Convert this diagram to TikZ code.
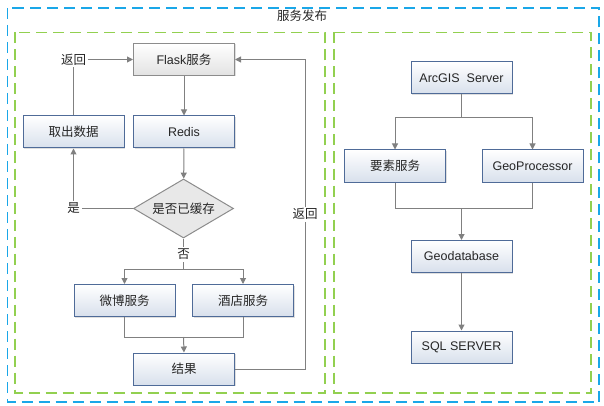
\documentclass[tikz,border=0pt]{standalone}
\usepackage{fontspec}
\setmainfont{Liberation Sans}
\newfontfamily\cjk{Noto Sans CJK SC}
\usetikzlibrary{arrows.meta,shapes.geometric,shadows}
\definecolor{bluedash}{HTML}{1AA7E8}
\definecolor{greendash}{HTML}{92D050}
\definecolor{boxborder}{HTML}{4F6B98}
\definecolor{boxbottom}{HTML}{D8E0EC}
\definecolor{grayborder}{HTML}{8C8C8C}
\definecolor{graybottom}{HTML}{E2E2E2}
\definecolor{connc}{HTML}{808080}
\definecolor{txt}{HTML}{262626}
\tikzset{
  bbox/.style={draw=boxborder, line width=1pt, top color=white, bottom color=boxbottom,
    minimum width=101pt, minimum height=32pt, inner sep=0pt,
    drop shadow={shadow xshift=1pt, shadow yshift=-1pt, opacity=.25}},
  gbox/.style={bbox, draw=grayborder, bottom color=graybottom},
  line/.style={draw=connc, line width=1pt},
  conn/.style={line, -{Triangle[length=6pt,width=6pt]}},
  lbl/.style={fill=white, inner sep=2pt},
  frame/.style={line width=1.3pt, dash pattern=on 11pt off 6pt}
}
\begin{document}
\begin{tikzpicture}[x=1pt,y=-1pt,font=\fontsize{12.5}{15}\selectfont, text=txt]
\useasboundingbox (0,0) rectangle (604,406);
\draw[frame, draw=bluedash] (7.5,8) rectangle (599,402);
\draw[frame, draw=greendash] (15,32.5) rectangle (325,393);
\draw[frame, draw=greendash] (334,32.5) rectangle (591,393);
\node (title) at (302,16) {\cjk 服务发布};

% left
\node[gbox] (flask) at (184,59.5) {Flask{\cjk 服务}};
\node[bbox] (redis) at (184,132) {Redis};
\node[bbox] (quchu) at (73.5,132) {\cjk 取出数据};
\node[diamond, draw=grayborder, line width=1pt, fill=graybottom!80!white, minimum width=100pt, minimum height=59pt, inner sep=0pt] (dia) at (183.5,208.5) {};
\node (diatext) at (dia.center) {\cjk 是否已缓存};
\node[bbox] (weibo) at (124.5,300.5) {\cjk 微博服务};
\node[bbox] (jiudian) at (243,300.5) {\cjk 酒店服务};
\node[bbox] (jieguo) at (184,369) {\cjk 结果};

\coordinate (b1) at (183.5,269);
\coordinate (m1) at (183.5,337);
\coordinate (rx) at (305,0);

\draw[conn] (flask) -- (redis);
\draw[conn] (redis) -- (dia);
\draw[line] (dia.south) -- node[lbl,pos=0.52]{\cjk 否} (b1);
\draw[conn] (b1) -| (weibo.north);
\draw[conn] (b1) -| (jiudian.north);
\draw[line] (weibo.south) |- (m1);
\draw[line] (jiudian.south) |- (m1);
\draw[conn] (m1) -- (jieguo.north);
\draw[conn] (dia.west) -| node[lbl,pos=0.5]{\cjk 是} (quchu.south);
\draw[conn] (quchu.north) |- node[lbl,pos=0.5]{\cjk 返回} (flask.west);
\draw[conn] (jieguo.east) -- (jieguo.east -| rx) -- node[lbl,pos=0.5]{\cjk 返回} (flask.east -| rx) -- (flask.east);

% right
\node[bbox] (arcgis) at (461.5,78) {ArcGIS\ \ Server};
\node[bbox] (yaosu) at (395,166) {\cjk 要素服务};
\node[bbox] (geop) at (532.5,166) {GeoProcessor};
\node[bbox] (gdb) at (461.5,256.5) {Geodatabase};
\node[bbox] (sql) at (461.5,347) {SQL SERVER};

\coordinate (b2) at (461.5,118);
\coordinate (m2) at (461.5,208);
\draw[line] (arcgis.south) -- (b2);
\draw[conn] (b2) -| (yaosu.north);
\draw[conn] (b2) -| (geop.north);
\draw[line] (yaosu.south) |- (m2);
\draw[line] (geop.south) |- (m2);
\draw[conn] (m2) -- (gdb.north);
\draw[conn] (gdb) -- (sql);
\end{tikzpicture}
\end{document}
